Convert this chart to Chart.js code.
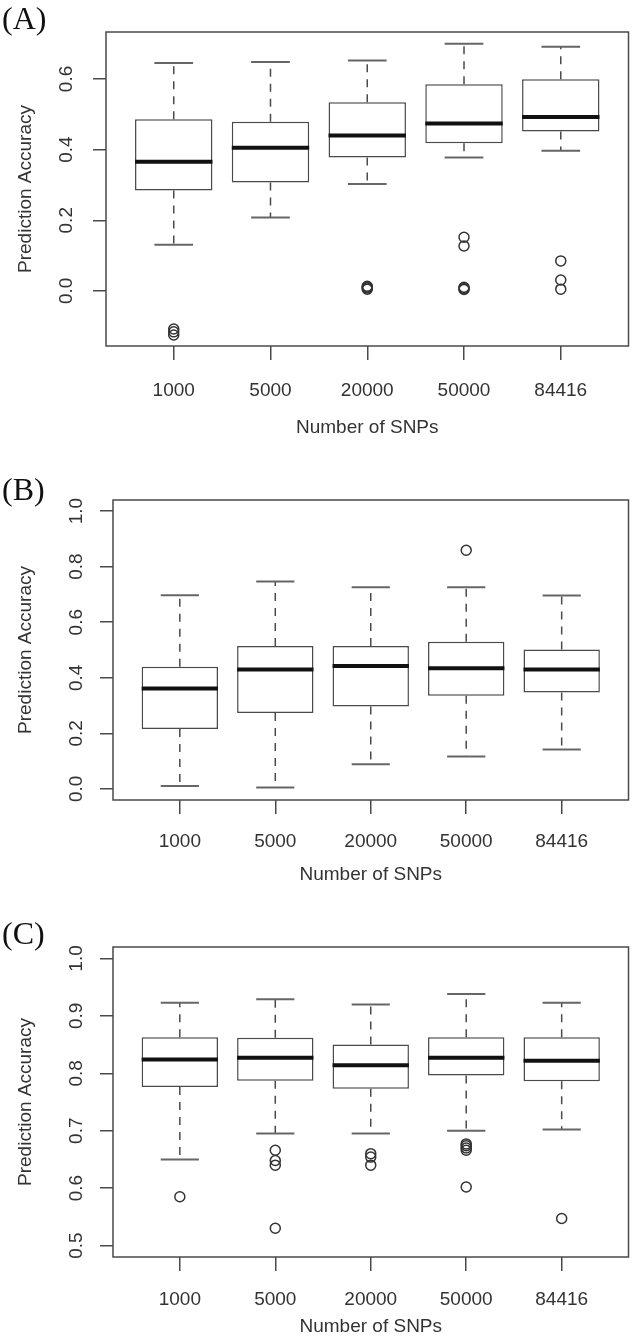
<!DOCTYPE html>
<html>
<head>
<meta charset="utf-8">
<script src="https://cdn.jsdelivr.net/npm/chart.js@4.4.1/dist/chart.umd.min.js"></script>
<style>
  body { margin: 0; background: #fff; width: 635px; height: 1341px; position: relative; overflow: hidden; }
  .panel { position: absolute; left: 0; width: 635px; }
</style>
</head>
<body>
<div class="panel" style="top:0;height:440px"><canvas id="chartA"></canvas></div>
<div class="panel" style="top:440px;height:440px"><canvas id="chartB"></canvas></div>
<div class="panel" style="top:880px;height:461px"><canvas id="chartC"></canvas></div>
<script>
const snps = ['1000', '5000', '20000', '50000', '84416'];

// (A)
const aMax = [0.645, 0.648, 0.652, 0.700, 0.691];
const aQ3  = [0.486, 0.479, 0.534, 0.585, 0.599];
const aMed = [0.366, 0.405, 0.440, 0.474, 0.492];
const aQ1  = [0.284, 0.307, 0.378, 0.418, 0.451];
const aMin = [0.131, 0.208, 0.303, 0.378, 0.397];
const aOut = [[-0.108, -0.116, -0.125], [], [0.005, 0.008, 0.011, 0.013], [0.152, 0.127, 0.004, 0.007, 0.010], [0.085, 0.031, 0.005]];
const aTicks = [0, 0.2, 0.4, 0.6];
const aTickLabels = ['0.0', '0.2', '0.4', '0.6'];

// (B)
const bMax = [0.697, 0.747, 0.726, 0.726, 0.696];
const bQ3  = [0.440, 0.514, 0.514, 0.530, 0.502];
const bMed = [0.361, 0.430, 0.442, 0.434, 0.430];
const bQ1  = [0.216, 0.273, 0.297, 0.335, 0.347];
const bMin = [0.010, 0.005, 0.089, 0.117, 0.142];
const bOut = [[], [], [], [0.859], []];
const bTicks = [0, 0.2, 0.4, 0.6, 0.8, 1.0];
const bTickLabels = ['0.0', '0.2', '0.4', '0.6', '0.8', '1.0'];

// (C)
const cMax = [0.923, 0.929, 0.920, 0.938, 0.923];
const cQ3  = [0.863, 0.862, 0.850, 0.863, 0.863];
const cMed = [0.824, 0.827, 0.814, 0.827, 0.822];
const cQ1  = [0.776, 0.787, 0.773, 0.796, 0.786];
const cMin = [0.650, 0.695, 0.695, 0.700, 0.702];
const cOut = [[0.585], [0.666, 0.648, 0.640, 0.530], [0.660, 0.654, 0.640], [0.677, 0.674, 0.670, 0.666, 0.602], [0.547]];
const cTicks = [0.5, 0.6, 0.7, 0.8, 0.9, 1.0];
const cTickLabels = ['0.5', '0.6', '0.7', '0.8', '0.9', '1.0'];

const sans = "'Liberation Sans', Arial, Helvetica, sans-serif";
const ink = '#333';
const line = '#4a4a4a';

// whiskers, caps, medians, frame and R-style texts
const boxPlugin = {
  id: 'boxExtras',
  afterDatasetsDraw(chart, args, o) {
    const { ctx } = chart;
    const x = chart.scales.x, y = chart.scales.y;
    const bars = chart.getDatasetMeta(0).data;
    ctx.save();
    o.max.forEach((mx, i) => {
      const cx = x.getPixelForValue(i + 1);
      const w = bars[i].width;
      ctx.strokeStyle = line;
      ctx.lineWidth = 1.5;
      ctx.setLineDash([8, 7]);
      ctx.beginPath();
      ctx.moveTo(cx, y.getPixelForValue(o.q3[i]));
      ctx.lineTo(cx, y.getPixelForValue(mx));
      ctx.moveTo(cx, y.getPixelForValue(o.q1[i]));
      ctx.lineTo(cx, y.getPixelForValue(o.min[i]));
      ctx.stroke();
      ctx.setLineDash([]);
      ctx.strokeStyle = '#666';
      ctx.lineWidth = 2;
      ctx.beginPath();
      [mx, o.min[i]].forEach(v => {
        ctx.moveTo(cx - w / 4, y.getPixelForValue(v));
        ctx.lineTo(cx + w / 4, y.getPixelForValue(v));
      });
      ctx.stroke();
      ctx.strokeStyle = '#111';
      ctx.lineWidth = 4;
      ctx.beginPath();
      ctx.moveTo(cx - w / 2, y.getPixelForValue(o.med[i]));
      ctx.lineTo(cx + w / 2, y.getPixelForValue(o.med[i]));
      ctx.stroke();
    });
    ctx.restore();
  },
  afterDraw(chart, args, o) {
    const { ctx, chartArea: a } = chart;
    const y = chart.scales.y;
    ctx.save();
    ctx.strokeStyle = line;
    ctx.lineWidth = 1.5;
    ctx.strokeRect(a.left, a.top, a.right - a.left, a.bottom - a.top);
    ctx.fillStyle = ink;
    ctx.font = '19px ' + sans;
    ctx.textAlign = 'center';
    ctx.textBaseline = 'middle';
    o.ticks.forEach((v, i) => {
      ctx.save();
      ctx.translate(o.tickX, y.getPixelForValue(v));
      ctx.rotate(-Math.PI / 2);
      ctx.fillText(o.tickLabels[i], 0, 0);
      ctx.restore();
    });
    ctx.save();
    ctx.translate(26, (a.top + a.bottom) / 2);
    ctx.rotate(-Math.PI / 2);
    ctx.fillText('Prediction Accuracy', 0, 0);
    ctx.restore();
    ctx.fillText('Number of SNPs', (a.left + a.right) / 2, o.titleY);
    ctx.fillStyle = '#111';
    ctx.font = "32px 'Liberation Serif', 'Times New Roman', serif";
    ctx.textAlign = 'left';
    ctx.fillText(o.label, 2, o.labelY);
    ctx.restore();
  }
};

function makePanel(id, st, g) {
  const boxes = snps.map((_, i) => ({ x: i + 1, y: [st.q1[i], st.q3[i]] }));
  const outliers = [];
  st.out.forEach((list, i) => list.forEach(v => outliers.push({ x: i + 1, y: v })));
  return new Chart(document.getElementById(id), {
    type: 'bar',
    data: {
      datasets: [{
        data: boxes,
        backgroundColor: '#fff',
        borderColor: line,
        borderWidth: 1.5,
        borderSkipped: false,
        barPercentage: 0.8,
        categoryPercentage: 1.0
      }, {
        type: 'scatter',
        data: outliers,
        pointRadius: 5,
        pointBorderWidth: 1.5,
        pointBackgroundColor: 'rgba(0,0,0,0)',
        pointBorderColor: '#333'
      }]
    },
    options: {
      responsive: true,
      maintainAspectRatio: false,
      animation: false,
      layout: { padding: { top: g.top, right: g.right, left: 0, bottom: 0 } },
      plugins: {
        legend: { display: false },
        tooltip: { enabled: false },
        boxExtras: {
          max: st.max, q3: st.q3, med: st.med, q1: st.q1, min: st.min,
          ticks: st.ticks, tickLabels: st.tickLabels,
          tickX: g.tickX, titleY: g.titleY, label: g.label, labelY: g.labelY
        }
      },
      scales: {
        x: {
          type: 'linear',
          min: 0.3,
          max: 5.7,
          offset: false,
          afterBuildTicks: s => { s.ticks = snps.map((_, i) => ({ value: i + 1 })); },
          afterFit: s => { s.height = g.xHeight; },
          ticks: {
            autoSkip: false,
            maxRotation: 0,
            padding: g.xPad,
            color: ink,
            font: { size: 19, family: sans },
            callback: v => snps[v - 1]
          },
          grid: { offset: false, drawOnChartArea: false, drawTicks: true, tickLength: 14, color: line, lineWidth: 1.5 },
          border: { display: false }
        },
        y: {
          min: g.yMin,
          max: g.yMax,
          afterBuildTicks: s => { s.ticks = st.ticks.map(v => ({ value: v })); },
          afterFit: s => { s.width = g.left; },
          ticks: { display: false },
          grid: { drawOnChartArea: false, drawTicks: true, tickLength: 13, color: line, lineWidth: 1.5 },
          border: { display: false }
        }
      }
    },
    plugins: [boxPlugin]
  });
}

makePanel('chartA',
  { max: aMax, q3: aQ3, med: aMed, q1: aQ1, min: aMin, out: aOut, ticks: aTicks, tickLabels: aTickLabels },
  { top: 32, right: 5, left: 106, xHeight: 94, xPad: 19, yMin: -0.156, yMax: 0.733, tickX: 67, titleY: 428, label: '(A)', labelY: 21 });
makePanel('chartB',
  { max: bMax, q3: bQ3, med: bMed, q1: bQ1, min: bMin, out: bOut, ticks: bTicks, tickLabels: bTickLabels },
  { top: 60, right: 4, left: 113, xHeight: 80, xPad: 16, yMin: -0.04, yMax: 1.04, tickX: 77, titleY: 435, label: '(B)', labelY: 52 });
makePanel('chartC',
  { max: cMax, q3: cQ3, med: cMed, q1: cQ1, min: cMin, out: cOut, ticks: cTicks, tickLabels: cTickLabels },
  { top: 67, right: 4, left: 113, xHeight: 84, xPad: 17, yMin: 0.48, yMax: 1.02, tickX: 77, titleY: 447, label: '(C)', labelY: 56 });
</script>
</body>
</html>
